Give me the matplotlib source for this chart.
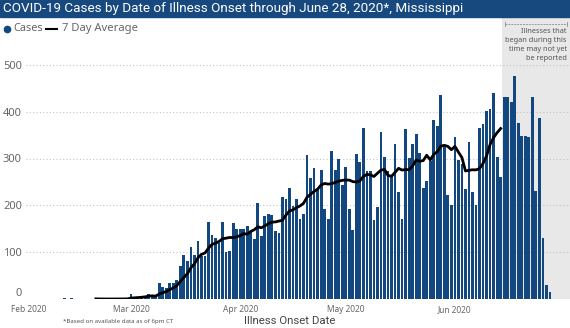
import matplotlib
matplotlib.use('Agg')
import matplotlib.pyplot as plt
from matplotlib.lines import Line2D
from matplotlib.patches import Rectangle

W, H = 570, 328

# day 0 = Feb 1 2020, one bar per day of illness onset
cases = [1, 0, 1, 0, 1, 0, 0, 1, 0, 0,
         2, 1, 2, 1, 0, 1, 0, 0, 0, 0,
         0, 0, 0, 0, 0, 1, 0, 0, 1,
         11, 5, 4, 5, 6, 11, 5, 8, 34, 25,
         23, 35, 35, 40, 71, 93, 81, 112, 94, 124,
         92, 92, 165, 137, 131, 119, 164, 101, 103, 162,
         149, 149, 149, 156, 142, 128, 206, 135, 177, 181,
         179, 146, 141, 217, 214, 237, 198, 213, 171, 181,
         308, 258, 279, 232, 276, 193, 171, 315, 276, 298,
         244, 281, 192, 148, 310, 292, 365, 274, 274, 168,
         197, 356, 303, 274, 263, 332, 228, 171, 364, 301,
         330, 353, 312, 238, 251, 295, 383, 370, 435, 325,
         222, 201, 346, 296, 288, 235, 336, 229, 200, 365,
         374, 401, 405, 439, 303, 261, 432, 432, 420, 477,
         375, 349, 347, 346, 431, 231, 387, 130, 29, 16]

# 7 day average, starts on day 19 and stops on day 134 (Jun 14)
avg_start = 19
avg7 = [0.3, 0.1, 0.1, 0, 0, 0, 0.1, 0.1, 0.1, 0.3,
        1.9, 2.6, 3.1, 3.7, 4.6, 6.1, 6.7, 6.3, 10.4, 13.4,
        16.0, 20.1, 23.6, 28.6, 37.6, 46.0, 54.0, 66.7, 75.1, 87.9,
        95.3, 98.3, 108.6, 116.6, 119.3, 122.9, 128.6, 129.9, 131.4, 131.0,
        132.7, 135.3, 139.6, 138.4, 144.3, 147.9, 154.1, 152.1, 156.1, 160.7,
        164.0, 164.6, 166.4, 168.0, 179.3, 187.9, 190.3, 195.1, 198.7, 204.4,
        217.4, 223.7, 229.7, 234.6, 243.6, 246.7, 245.3, 246.3, 248.9, 251.6,
        253.3, 254.0, 253.9, 250.6, 249.9, 252.1, 261.7, 266.0, 265.0, 261.6,
        268.6, 275.1, 276.7, 263.7, 262.1, 270.4, 279.0, 275.3, 276.4, 276.1,
        284.1, 297.0, 294.1, 295.6, 307.0, 297.1, 308.9, 314.6, 326.3, 328.1,
        325.9, 318.7, 326.0, 313.6, 301.9, 273.3, 274.9, 275.9, 275.7, 278.4,
        289.6, 305.7, 330.0, 344.7, 355.3, 364.0]

month_days = [0, 29, 60, 90, 121]
month_labels = ['Feb 2020', 'Mar 2020', 'Apr 2020', 'May 2020', 'Jun 2020']
y_ticks = [0, 100, 200, 300, 400, 500]
late_start = 134.5  # onset after this may not yet be reported

title = 'COVID-19 Cases by Date of Illness Onset through June 28, 2020*, Mississippi'
note = 'Illnesses that\nbegan during this\ntime may not yet\nbe reported'

bar_color = '#13477f'
head_font = ['Roboto', 'DejaVu Sans']
body_font = ['Noto Sans', 'DejaVu Sans']

fig = plt.figure(figsize=(W / 100, H / 100), dpi=100)
fig.patch.set_facecolor('white')

ax = fig.add_axes([26 / W, 29 / H, 544 / W, 281 / H])
ax.set_xlim(-0.85, 153.7)
ax.set_ylim(0, 600)

# shaded zone for the last two weeks
ax.axvspan(late_start, ax.get_xlim()[1], color='#e8e8e8', zorder=0, lw=0)

days = list(range(len(cases)))
ax.bar(days, cases, width=0.78, color=bar_color, zorder=2, lw=0)
avg_days = list(range(avg_start, avg_start + len(avg7)))
ax.plot(avg_days, avg7, color='black', lw=2, zorder=3, solid_joinstyle='round')

ax.set_yticks(y_ticks)
ax.set_xticks(month_days)
ax.set_xticklabels(month_labels)
ax.tick_params(length=0, labelsize=8, colors='#666666', pad=3)
ax.tick_params(axis='x', labelsize=6, pad=4.5)
for lab in ax.get_xticklabels() + ax.get_yticklabels():
    lab.set_family(body_font)
ax.get_yticklabels()[0].set_va('bottom')
ax.yaxis.grid(True, linestyle=(0, (1, 2)), color='#c4c4c4', lw=0.8, zorder=1)
ax.set_axisbelow(True)
for s in ax.spines.values():
    s.set_visible(False)
ax.patch.set_alpha(0)

# bracket and note over the shaded zone
bx0 = late_start + 0.8
bx1 = ax.get_xlim()[1] - 0.9
ax.plot([bx0, bx1], [587, 587], color='#9a9a9a', lw=0.7, ls=(0, (2, 1)), zorder=4)
ax.plot([bx0, bx0], [582, 592], color='#9a9a9a', lw=0.7, zorder=4)
ax.plot([bx1, bx1], [582, 592], color='#9a9a9a', lw=0.7, zorder=4)
ax.text(bx1, 578, note, ha='right', va='top', fontsize=5.3, color='#555555',
        family=body_font, linespacing=1.35, zorder=4)

# title band
fig.patches.append(Rectangle((0, 1 - 17 / H), 1, 17 / H, transform=fig.transFigure,
                             color='#17497f', zorder=0))
fig.text(3 / W, 1 - 8.8 / H, title, color='white', fontsize=9.7, va='center',
         ha='left', family=head_font)

# legend
fig.add_artist(Line2D([7 / W], [1 - 28.5 / H], marker='o', markersize=4.5,
                      color=bar_color, ls='none', transform=fig.transFigure))
fig.text(13 / W, 1 - 28.5 / H, 'Cases', color='#666666', fontsize=7.9,
         va='center', family=body_font)
fig.add_artist(Line2D([46 / W, 57 / W], [1 - 28.5 / H] * 2, color='black', lw=1.5,
                      transform=fig.transFigure))
fig.text(62 / W, 1 - 28.5 / H, '7 Day Average', color='#666666', fontsize=8.1,
         va='center', family=body_font)

fig.text(290 / W, 1 - 321 / H, 'Illness Onset Date', color='#444444', fontsize=8.2,
         ha='center', va='center', family=head_font)
fig.text(63 / W, 1 - 321.5 / H, '*Based on available data as of 6pm CT', color='#555555',
         fontsize=4.4, ha='left', va='center', family=body_font)

fig.savefig('out.png', dpi=100)
